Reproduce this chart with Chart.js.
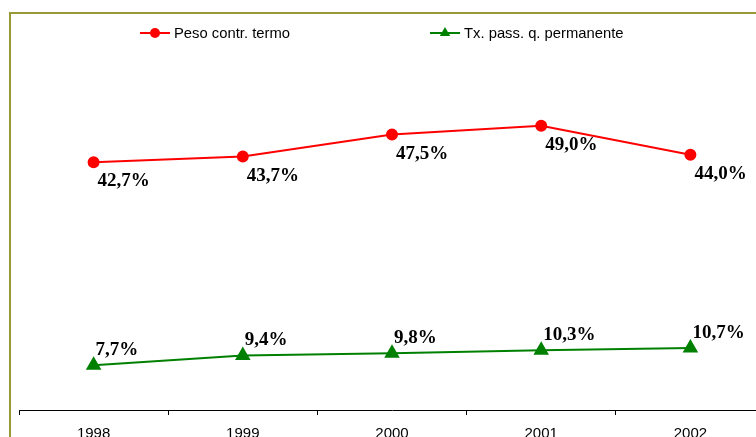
<!DOCTYPE html>
<html>
<head>
<meta charset="utf-8">
<script src="https://cdn.jsdelivr.net/npm/chart.js@4/dist/chart.umd.min.js"></script>
<style>
  html, body { margin: 0; padding: 0; background: #fff; overflow: hidden; }
  #wrap { position: relative; width: 756px; height: 437px; overflow: hidden; }
  #frame { position: absolute; left: 9px; top: 12px; width: 900px; height: 600px; border: 2px solid #99993a; box-sizing: border-box; }
  #cv { position: absolute; left: 0; top: 0; }
</style>
</head>
<body>
<div id="wrap">
  <div id="frame"></div>
  <canvas id="cv" width="800" height="460"></canvas>
</div>
<script>
const categories = ['1998', '1999', '2000', '2001', '2002'];
const pesoContrTermo = [42.7, 43.7, 47.5, 49.0, 44.0];
const txPassPermanente = [7.7, 9.4, 9.8, 10.3, 10.7];
const seriesNames = ['Peso contr. termo', 'Tx. pass. q. permanente'];

const fmt = v => v.toFixed(1).replace('.', ',') + '%';

const legendPlugin = {
  id: 'customLegend',
  afterDraw(chart) {
    const ctx = chart.ctx;
    const starts = [140, 430];
    const y = 33;
    ctx.save();
    chart.data.datasets.forEach((ds, i) => {
      const x0 = starts[i];
      ctx.strokeStyle = ds.borderColor;
      ctx.lineWidth = 2;
      ctx.beginPath();
      ctx.moveTo(x0, y);
      ctx.lineTo(x0 + 30, y);
      ctx.stroke();
      ctx.fillStyle = ds.pointBackgroundColor;
      ctx.beginPath();
      if (ds.pointStyle === 'triangle') {
        const r = 6;
        ctx.moveTo(x0 + 15, y - r);
        ctx.lineTo(x0 + 15 + r * Math.sin(2 * Math.PI / 3), y + r / 2);
        ctx.lineTo(x0 + 15 - r * Math.sin(2 * Math.PI / 3), y + r / 2);
        ctx.closePath();
      } else {
        ctx.arc(x0 + 15, y, 5, 0, Math.PI * 2);
      }
      ctx.fill();
      ctx.fillStyle = '#000';
      ctx.font = '14.8px "Liberation Sans", Arial, sans-serif';
      ctx.textBaseline = 'middle';
      ctx.textAlign = 'left';
      ctx.fillText(ds.label, x0 + 34, y + 1);
    });
    ctx.restore();
  }
};

const labelPlugin = {
  id: 'pointLabels',
  afterDatasetsDraw(chart) {
    const ctx = chart.ctx;
    ctx.save();
    ctx.font = 'bold 19px "Liberation Serif", "Times New Roman", serif';
    ctx.fillStyle = '#000';
    ctx.textAlign = 'left';
    ctx.textBaseline = 'alphabetic';
    chart.data.datasets.forEach((ds, i) => {
      const meta = chart.getDatasetMeta(i);
      meta.data.forEach((pt, j) => {
        ctx.fillText(fmt(ds.data[j]), pt.x + ds.labelDx, pt.y + ds.labelDy);
      });
    });
    ctx.restore();
  }
};

new Chart(document.getElementById('cv'), {
  type: 'line',
  data: {
    labels: categories,
    datasets: [
      {
        label: seriesNames[0],
        data: pesoContrTermo,
        borderColor: '#ff0000',
        backgroundColor: '#ff0000',
        pointBackgroundColor: '#ff0000',
        pointBorderColor: '#ff0000',
        pointStyle: 'circle',
        pointRadius: 5,
        borderWidth: 2,
        tension: 0,
        labelDx: 4,
        labelDy: 24
      },
      {
        label: seriesNames[1],
        data: txPassPermanente,
        borderColor: '#008000',
        backgroundColor: '#008000',
        pointBackgroundColor: '#008000',
        pointBorderColor: '#008000',
        pointStyle: 'triangle',
        pointRadius: 7,
        borderWidth: 2,
        tension: 0,
        labelDx: 2,
        labelDy: -10
      }
    ]
  },
  options: {
    responsive: false,
    animation: false,
    layout: { padding: { left: 19, right: 35, top: 62, bottom: 7 } },
    plugins: { legend: { display: false }, tooltip: { enabled: false } },
    scales: {
      x: {
        offset: true,
        grid: { offset: true, drawOnChartArea: false, drawTicks: true, tickLength: 5, color: '#000', lineWidth: 1 },
        border: { color: '#000', width: 1 },
        ticks: { color: '#000', padding: 10, font: { family: '"Liberation Sans", Arial, sans-serif', size: 15 } }
      },
      y: {
        display: false,
        min: 0,
        max: 60
      }
    }
  },
  plugins: [legendPlugin, labelPlugin]
});
</script>
</body>
</html>
